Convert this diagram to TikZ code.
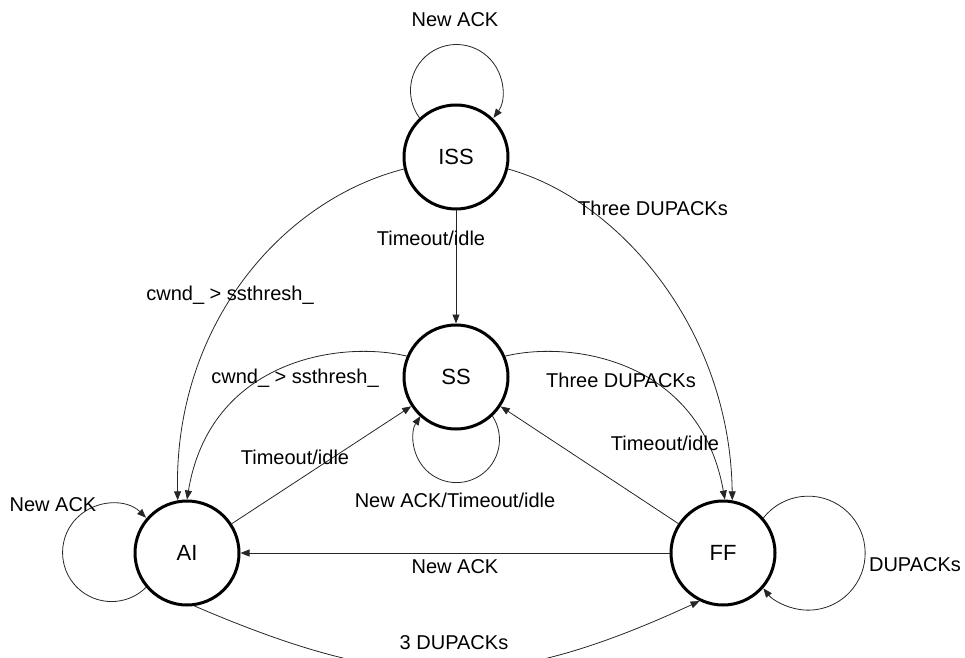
\documentclass[tikz,border=0pt]{standalone}
\usepackage{fontspec}
\setmainfont{Liberation Sans}
\usetikzlibrary{arrows.meta}
\begin{document}
\begin{tikzpicture}[x=1pt,y=1pt,
  state/.style={circle, draw, line width=3pt, minimum size=104pt, inner sep=0pt,
    font=\fontsize{22}{26}\selectfont},
  edge/.style={draw=black!85, line width=0.8pt, -{Triangle[length=9pt,width=7pt]}},
  lbl/.style={font=\fontsize{20}{24}\selectfont, inner sep=0pt}]
\useasboundingbox (0,0) rectangle (965,657);

% states
\node[state] (ISS) at (456,500) {ISS};
\node[state] (SS)  at (456,280) {SS};
\node[state] (AI)  at (187,104) {AI};
\node[state] (FF)  at (723,104) {FF};

% self loops
\draw[edge] (ISS.133.7) arc[start angle=216.5, end angle=-36.5, radius=46];
\draw[edge] (AI.220.6) arc[start angle=-45.3, end angle=-314.7, radius=49];
\draw[edge] (FF.41.3) arc[start angle=141.8, end angle=-141.8, radius=57];
\draw[edge] (SS.-47.6) arc[start angle=33.1, end angle=-213.1, radius=43];

% straight transitions
\draw[edge] (ISS) -- (SS);
\draw[edge] (AI) -- (SS);
\draw[edge] (FF) -- (SS);
\draw[edge] (FF) -- (AI);

% curved transitions
\draw[edge] (ISS.193) .. controls (282,457) and (174,332) .. (AI.100);
\draw[edge] (SS.157) .. controls (340,317) and (210,297) .. (AI.90);
\draw[edge] (ISS.347) .. controls (620,457) and (730,327) .. (FF.80);
\draw[edge] (SS.23) .. controls (572,317) and (700,297) .. (FF.88);
\draw[edge] (AI.278) .. controls (395,-35) and (498,-37) .. (FF.244);

% transition labels
\node[lbl] (tISS)  at (455,637) {New ACK};
\node[lbl] (tTo1)  at (431,419) {Timeout/idle};
\node[lbl] (tCw1)  at (230,362) {cwnd\_ > ssthresh\_};
\node[lbl] (tCw2)  at (295,279) {cwnd\_ > ssthresh\_};
\node[lbl] (tTh1)  at (653,449) {Three DUPACKs};
\node[lbl] (tTh2)  at (621,277) {Three DUPACKs};
\node[lbl] (tTo2)  at (295,200) {Timeout/idle};
\node[lbl] (tTo3)  at (665,214) {Timeout/idle};
\node[lbl] (tSS)   at (455,157) {New ACK/Timeout/idle};
\node[lbl] (tAI)   at (53,152)  {New ACK};
\node[lbl] (tNew)  at (455,90)  {New ACK};
\node[lbl] (tDup)  at (915,92)  {DUPACKs};
\node[lbl] (t3Dup) at (454,14)  {3 DUPACKs};
\end{tikzpicture}
\end{document}
